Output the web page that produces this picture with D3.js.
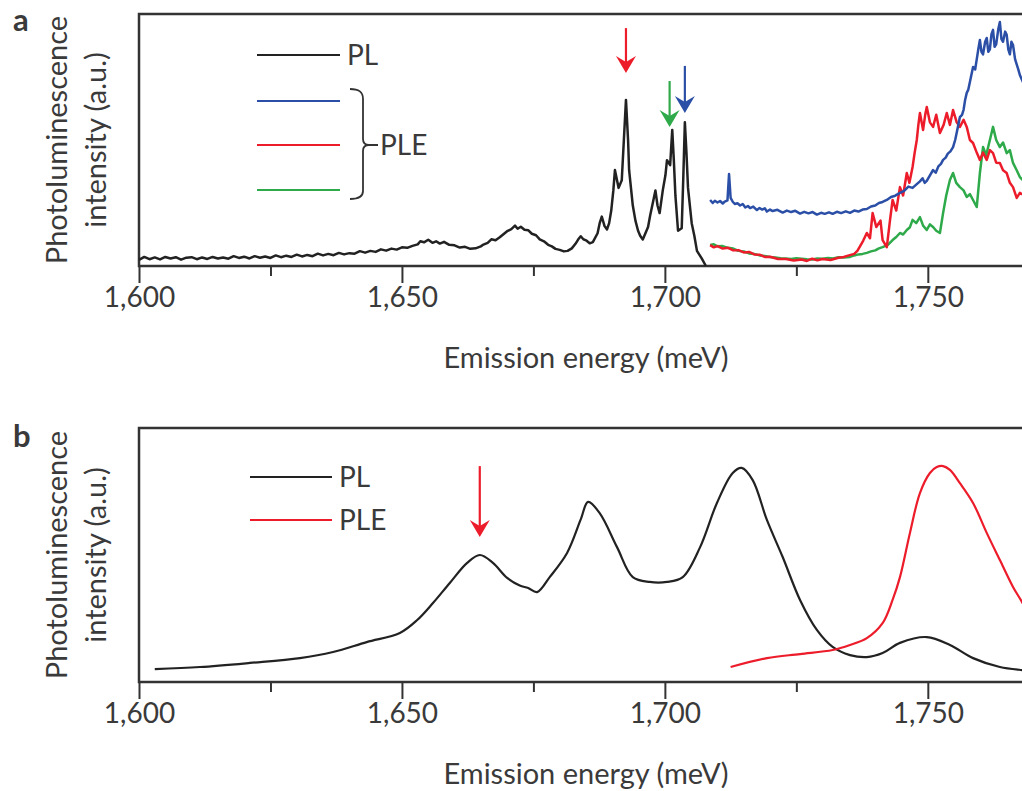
<!DOCTYPE html>
<html><head><meta charset="utf-8">
<script src="https://cdn.jsdelivr.net/npm/d3@7"></script>
<style>body{margin:0;background:#fff}svg{display:block}text{font-family:Lato,"Open Sans",sans-serif;fill:#3a3a3a}</style>
</head><body>
<script>
// ---------- DATA ----------
const majorTicks = [1600, 1650, 1700, 1750];
const minorTicks = [1625, 1675, 1725];

// Panel a: [energy meV, intensity a.u.]
const plA = [[1600,2.4],[1601,3.6],[1602,2.7],[1603,3.4],[1604,2.6],[1605,3.6],[1606,3.0],[1607,3.5],[1608,2.5],[1609,3.3],[1610,3.5],[1611,2.7],[1612,3.4],[1613,2.8],[1614,3.6],[1615,3.0],[1616,3.4],[1617,2.9],[1618,3.9],[1619,3.2],[1620,3.7],[1621,3.0],[1622,3.9],[1623,3.3],[1624,3.8],[1625,3.2],[1626,4.2],[1627,3.5],[1628,4.1],[1629,3.6],[1630,4.5],[1631,3.8],[1632,4.4],[1633,3.9],[1634,4.9],[1635,4.2],[1636,4.8],[1637,4.3],[1638,5.2],[1639,4.6],[1640,5.1],[1641,4.9],[1642,5.9],[1643,5.3],[1644,6.0],[1645,5.6],[1646,6.6],[1647,6.1],[1648,6.9],[1649,6.5],[1650,7.4],[1651,7.2],[1652,8.0],[1653,8.6],[1653.5,9.8],[1654.2,9.4],[1655,10.4],[1655.8,9.2],[1656.5,9.8],[1657.2,8.9],[1658,9.6],[1659,8.4],[1660,8.2],[1661,7.3],[1662,7.6],[1663,6.8],[1664,7.0],[1665,7.8],[1665.5,8.5],[1666.3,9.2],[1667,10.6],[1667.8,10.2],[1668.6,11.4],[1669.3,12.6],[1670,13.8],[1670.8,14.6],[1671.5,16.0],[1672,14.8],[1672.6,15.6],[1673.3,14.4],[1674,14.2],[1674.7,12.8],[1675.5,12.2],[1676.2,10.6],[1677,9.8],[1677.8,8.4],[1678.5,7.8],[1679.2,6.8],[1680,6.4],[1680.8,5.8],[1681.5,6.0],[1682.3,7.0],[1683,8.8],[1683.5,10.5],[1684,11.8],[1684.5,10.6],[1685,10.2],[1685.7,9.0],[1686.3,9.5],[1687.2,13],[1687.6,17],[1688,19.6],[1688.5,16],[1689,14.5],[1689.4,17],[1689.8,22],[1690.2,30],[1690.5,38.1],[1691.2,31],[1691.8,34],[1692.2,50],[1692.6,65.9],[1693,50],[1693.2,38],[1693.9,24],[1694.4,18],[1694.9,14],[1695.3,12],[1695.8,10.5],[1696.3,13],[1696.8,15.5],[1697.2,20],[1697.6,24],[1698.2,30],[1698.6,24],[1699,21],[1699.6,30],[1700.1,36],[1700.4,42],[1701,40],[1701.4,54],[1701.7,42],[1702,28],[1702.5,14],[1703.2,15],[1703.5,35],[1703.8,57],[1704.1,45],[1704.4,31],[1705.1,17],[1705.6,12],[1706.1,6],[1707,3],[1707.8,0]];

const pleBlueA = [[1708.6,26.2],[1709.1,25.0],[1709.5,25.9],[1710,25.2],[1710.5,25.8],[1711,24.8],[1711.3,25.4],[1711.9,26.0],[1712.2,36.5],[1712.5,27],[1712.9,25.5],[1713.3,24.6],[1713.8,24.9],[1714.3,24.0],[1714.8,24.6],[1715.3,23.2],[1715.8,23.8],[1716.2,23.0],[1716.8,23.6],[1717.5,22.2],[1718,23.0],[1718.5,22.4],[1719,22.9],[1719.4,21.6],[1720,22.4],[1720.5,21.8],[1721.4,22.3],[1722.4,21.2],[1723.2,22.0],[1724,21.4],[1724.8,21.9],[1725.7,20.8],[1726.5,21.5],[1727.3,20.9],[1728.1,21.4],[1728.9,20.4],[1729.7,21.1],[1730.4,20.7],[1731.2,21.3],[1731.9,20.7],[1732.7,21.5],[1733.5,21.0],[1734.4,21.7],[1735.2,21.1],[1736,22.0],[1736.8,21.6],[1737.6,22.4],[1738.4,22.6],[1739.2,23.6],[1740,24.0],[1740.7,25.0],[1741.4,25.4],[1742.2,26.2],[1743,27.4],[1743.8,27.9],[1744.7,29.0],[1745.5,29.8],[1746.3,31.5],[1747.1,31.0],[1747.9,32.5],[1748.5,33.6],[1749,34.8],[1749.4,33.0],[1749.8,33.8],[1750.4,36],[1751,38.1],[1751.5,37],[1752,39.5],[1752.5,40.5],[1752.9,42.1],[1753.4,43],[1753.8,44.6],[1754.3,45.5],[1754.8,47.2],[1755.2,50],[1755.5,53],[1755.8,56],[1756.1,59.1],[1756.5,60],[1756.8,62],[1757.1,66],[1757.4,68.7],[1757.7,70],[1758,73],[1758.3,76],[1758.6,79.0],[1759,78],[1759.3,82],[1759.6,86],[1759.9,89.7],[1760.2,85],[1760.5,84],[1760.9,89],[1761.2,90.5],[1761.5,85],[1761.8,86],[1762.1,92],[1762.4,93.7],[1762.7,87],[1763,88],[1763.4,94],[1763.7,96.8],[1764,90],[1764.3,89],[1764.7,93],[1765.0,91.7],[1765.3,86],[1765.6,84],[1765.9,89],[1766.2,87.7],[1766.6,82],[1766.9,80],[1767.2,78],[1767.5,75.8],[1768.3,72],[1769.4,69.8],[1770,68]];

const pleRedA = [[1708.6,8.3],[1709.3,7.4],[1710,7.9],[1711,6.9],[1712,7.2],[1713,6.2],[1714,6.3],[1715,5.4],[1716,5.6],[1717,4.6],[1718,4.5],[1719,3.6],[1720,3.7],[1721.5,2.8],[1723,2.8],[1724.5,2.2],[1726,2.6],[1727,2.0],[1728,2.9],[1729,2.3],[1730,2.8],[1731.5,2.4],[1733,3.3],[1734,3.6],[1735,4.2],[1736,4.8],[1736.6,6],[1737.1,7.8],[1737.7,10],[1738.4,13.1],[1739,11],[1739.5,21],[1740.2,15.5],[1741,18],[1741.4,10.3],[1742.2,7.5],[1742.8,18],[1743.3,26.2],[1744,22],[1744.7,31.3],[1745.3,28],[1746,36.9],[1746.5,33],[1747.1,39.3],[1747.5,45],[1747.9,50.0],[1748.2,56],[1748.5,60.7],[1749.1,54],[1749.5,60],[1749.8,63.1],[1750.4,57],[1751,55.2],[1751.6,60],[1752.3,52.8],[1753,56],[1753.6,60.7],[1754.2,56],[1754.8,61.9],[1755.5,57],[1756.1,55.2],[1756.8,58],[1757.4,55.2],[1758,50],[1758.6,48.8],[1759.3,45],[1759.9,42.1],[1760.5,45],[1761.2,42.1],[1761.8,46],[1762.4,44.8],[1763,41],[1763.7,40.9],[1764.3,38],[1765,36.9],[1765.6,33],[1766.2,31.3],[1766.9,27],[1767.5,29.0],[1770,26]];

const pleGreenA = [[1708.6,8.3],[1709.3,8.6],[1710,7.8],[1711,7.9],[1712,7.2],[1713,6.9],[1714,6.0],[1715,5.8],[1716,5.0],[1717,4.8],[1718,4.2],[1719,4.0],[1720,3.6],[1721,3.4],[1722,3.1],[1723,3.0],[1724,2.8],[1725,3.1],[1726,2.9],[1727,2.7],[1728,2.6],[1729,3.0],[1730,2.9],[1731,3.2],[1732,3.0],[1733,3.5],[1734,3.4],[1735.2,3.6],[1736,4.2],[1736.8,4.6],[1737.6,4.8],[1738.4,5.2],[1739.2,5.8],[1740,6.2],[1740.7,7.0],[1741.4,7.5],[1742.4,8.4],[1743.3,10.3],[1744,11.5],[1744.7,13.1],[1745.3,12.5],[1746,14.3],[1746.6,15.4],[1747.1,18.3],[1747.8,17],[1748.5,19.4],[1749.1,16],[1749.8,14.3],[1750.4,16.5],[1751,15.5],[1751.6,14],[1752.3,13.1],[1752.9,21.0],[1753.5,28],[1754.2,34.1],[1754.8,36.9],[1755.4,33],[1756.1,31.3],[1756.8,30],[1757.4,27.4],[1758,28.5],[1758.6,26.2],[1759.3,23.4],[1759.9,36.9],[1760.5,47.2],[1761.1,44],[1761.8,50],[1762.4,55.2],[1763,50],[1763.7,47.2],[1764.3,49],[1765,44.8],[1765.6,46],[1766.2,40.9],[1766.9,38],[1767.5,35.3],[1770,30]];

// arrows panel a: [energy, top value, tip value, colour key]
const arrowsA = [[1692.6,94.4,76.6,"red"],[1700.9,73.4,55.2,"green"],[1703.8,79.4,60.7,"blue"]];

// Panel b
const plB = [[1603.0,5.1],[1611.6,5.9],[1621.1,7.5],[1630.6,9.4],[1636.9,11.8],[1643.3,15.7],[1649.6,19.3],[1652.9,24.4],[1655.9,31.1],[1659.1,39.0],[1662.4,46.9],[1664.8,50.0],[1667.3,46.9],[1670.0,41.0],[1672.4,38.0],[1674.0,37.0],[1675.7,35.4],[1678.1,41.3],[1681.4,50.8],[1684.0,64.0],[1685.4,70.9],[1687.6,66.5],[1690.9,53.1],[1693.9,41.3],[1697.1,39.4],[1700.4,39.4],[1703.4,41.3],[1706.7,53.1],[1709.9,70.5],[1712.9,82.3],[1714.6,84.3],[1716.7,79.5],[1719.4,63.8],[1722.4,49.2],[1725.7,32.3],[1728.9,20.5],[1731.9,13.8],[1735.2,10.6],[1738.4,9.8],[1741.4,11.4],[1744.7,15.4],[1749.8,17.7],[1754.2,14.6],[1758.6,9.4],[1763.7,5.9],[1767.9,4.7],[1770,4.4]];
const pleB = [[1712.5,5.9],[1719.4,9.4],[1725.7,11.0],[1731.9,12.6],[1735.2,14.6],[1738.4,17.3],[1741.4,23.2],[1743.3,32.3],[1744.7,41.3],[1746.6,58.7],[1748.5,74.4],[1750.4,82.3],[1751.7,84.6],[1752.9,85.0],[1754.2,83.5],[1756.1,78.3],[1758.6,70.5],[1761.2,58.7],[1763.7,48.0],[1766.2,37.4],[1767.9,31.5],[1770.3,22]];
const arrowsB = [[1664.8,85.0,57.1,"red"]];

const colors = {black:"#222", blue:"#2b4fa6", red:"#ec1c2a", green:"#2faa4a"};

// ---------- DRAW ----------
const W = 1022, H = 791;
const svg = d3.select("body").append("svg").attr("width", W).attr("height", H);
svg.append("rect").attr("width", W).attr("height", H).attr("fill", "#fff");

function panel(top, bottom, label, labelY) {
  const x = d3.scaleLinear().domain([1600, 1770]).range([139, 1033]);
  const y = d3.scaleLinear().domain([0, 100]).range([bottom, top]);
  const g = svg.append("g");
  g.append("rect").attr("x", 139).attr("y", top).attr("width", 1033 - 139).attr("height", bottom - top)
    .attr("fill", "none").attr("stroke", "#333").attr("stroke-width", 2.5);
  const major = d3.axisBottom(x).tickValues(majorTicks).tickSize(17).tickPadding(4).tickFormat(d3.format(","));
  const minor = d3.axisBottom(x).tickValues(minorTicks).tickSize(10).tickFormat("");
  const ga = g.append("g").attr("transform", `translate(0,${bottom})`).call(major);
  const gm = g.append("g").attr("transform", `translate(0,${bottom})`).call(minor);
  [ga, gm].forEach(s => { s.select(".domain").remove(); s.selectAll("line").attr("stroke", "#333").attr("stroke-width", 2); });
  ga.selectAll("text").attr("font-size", 28).attr("fill", "#3a3a3a").style("font-family", "Lato");
  g.append("text").attr("x", 586).attr("y", bottom + 102).attr("text-anchor", "middle").attr("font-size", 29).text("Emission energy (meV)");
  const cy = (top + bottom) / 2;
  g.append("text").attr("transform", `translate(67,${cy}) rotate(-90)`).attr("text-anchor", "middle").attr("font-size", 29).text("Photoluminescence");
  g.append("text").attr("transform", `translate(106,${cy}) rotate(-90)`).attr("text-anchor", "middle").attr("font-size", 29).text("intensity (a.u.)");
  g.append("text").attr("x", 13).attr("y", labelY).attr("font-size", 31).attr("font-weight", "bold").attr("fill", "#222").text(label);
  return {x, y, g};
}

function drawLine(p, data, color, w, curve) {
  const line = d3.line().x(d => p.x(d[0])).y(d => p.y(d[1])).curve(curve || d3.curveLinear);
  p.g.append("path").datum(data).attr("d", line).attr("fill", "none").attr("stroke", color)
    .attr("stroke-width", w).attr("stroke-linejoin", "round");
}
function drawArrow(p, a) {
  const cx = p.x(a[0]), y0 = p.y(a[1]), y1 = p.y(a[2]), c = colors[a[3]];
  p.g.append("line").attr("x1", cx).attr("x2", cx).attr("y1", y0).attr("y2", y1 - 8).attr("stroke", c).attr("stroke-width", 2.2);
  p.g.append("path").attr("d", `M${cx},${y1} L${cx - 10},${y1 - 17} L${cx},${y1 - 11} L${cx + 10},${y1 - 17} Z`).attr("fill", c);
}

// Panel a
const pa = panel(14, 266, "a", 31);
drawLine(pa, pleGreenA, colors.green, 2.5);
drawLine(pa, pleRedA, colors.red, 2.5);
drawLine(pa, pleBlueA, colors.blue, 2.5);
drawLine(pa, plA, colors.black, 2.5);
arrowsA.forEach(a => drawArrow(pa, a));
const legA = [[55, colors.black], [101, colors.blue], [145, colors.red], [190, colors.green]];
legA.forEach(l => pa.g.append("line").attr("x1", 257).attr("x2", 340).attr("y1", l[0]).attr("y2", l[0]).attr("stroke", l[1]).attr("stroke-width", 2.2));
pa.g.append("text").attr("x", 347).attr("y", 55).attr("dy", "0.36em").attr("font-size", 28).text("PL");
pa.g.append("path").attr("d", "M350,89 C358,89 363,91 363,99 L363,139 C363,143 365,145 369,145 L378,145 M369,145 C365,145 363,147 363,151 L363,191 C363,197 358,199 350,199")
  .attr("fill", "none").attr("stroke", "#333").attr("stroke-width", 1.8);
pa.g.append("text").attr("x", 380).attr("y", 145).attr("dy", "0.36em").attr("font-size", 28).text("PLE");

// Panel b
const pb = panel(428, 682, "b", 447);
drawLine(pb, plB, colors.black, 2.2, d3.curveCatmullRom);
drawLine(pb, pleB, colors.red, 2.2, d3.curveCatmullRom);
arrowsB.forEach(a => drawArrow(pb, a));
pb.g.append("line").attr("x1", 250).attr("x2", 332).attr("y1", 477).attr("y2", 477).attr("stroke", colors.black).attr("stroke-width", 2);
pb.g.append("line").attr("x1", 250).attr("x2", 332).attr("y1", 520).attr("y2", 520).attr("stroke", colors.red).attr("stroke-width", 2);
pb.g.append("text").attr("x", 339).attr("y", 477).attr("dy", "0.36em").attr("font-size", 28).text("PL");
pb.g.append("text").attr("x", 339).attr("y", 520).attr("dy", "0.36em").attr("font-size", 28).text("PLE");
</script>
</body></html>
